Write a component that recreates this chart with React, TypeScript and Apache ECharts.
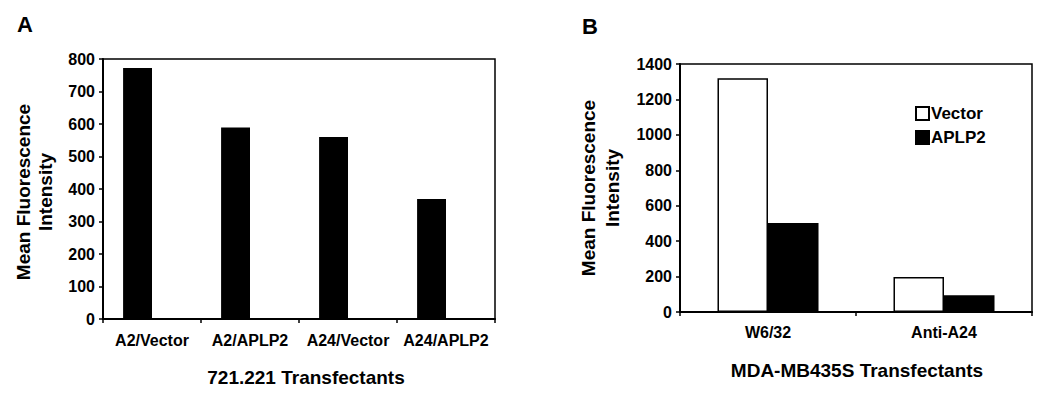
import React, { useEffect, useRef } from "react";
import * as echarts from "echarts";

const leftCategories = ["A2/Vector", "A2/APLP2", "A24/Vector", "A24/APLP2"];
const leftValues = [772, 589, 560, 369];
const leftEmpty = ["-", "-", "-", "-"];

const rightCategories = ["W6/32", "Anti-A24"];
const vectorValues = [1319, 198];
const aplp2Values = [502, 94];

const FONT = 'Arial, "Liberation Sans", Helvetica, sans-serif';

export default function App() {
  const ref = useRef<HTMLDivElement>(null);
  useEffect(() => {
    const chart = echarts.init(ref.current!, null, { renderer: "svg" });
    const axisLine = { show: true, lineStyle: { color: "#000", width: 2 } };
    const axisTick = { show: true, length: 4, inside: false, lineStyle: { color: "#000", width: 1.5 } };
    const yLabel = {
      color: "#000",
      fontSize: 16,
      fontWeight: "bold",
      fontFamily: FONT,
      margin: 8,
      formatter: (v: number) => String(v),
    };
    chart.setOption({
      animation: false,
      backgroundColor: "#fff",
      grid: [
        { left: 103, top: 59, width: 392, height: 260, show: true, borderColor: "#000", borderWidth: 1.5, backgroundColor: "transparent" },
        { left: 680, top: 64, width: 352, height: 248, show: true, borderColor: "#000", borderWidth: 1.5, backgroundColor: "transparent" },
      ],
      legend: {
        data: ["Vector", "APLP2"],
        orient: "vertical",
        left: 910,
        top: 100,
        itemWidth: 13,
        itemHeight: 13,
        itemGap: 7,
        icon: "rect",
        textStyle: { color: "#000", fontSize: 17, fontWeight: "bold", fontFamily: FONT, padding: [0, 0, 0, -3] },
      },
      xAxis: [
        {
          type: "category",
          gridIndex: 0,
          data: leftCategories,
          axisLine,
          axisTick,
          axisLabel: { color: "#000", fontSize: 16, fontWeight: "bold", fontFamily: FONT, margin: 13, interval: 0 },
        },
        {
          type: "category",
          gridIndex: 1,
          data: rightCategories,
          axisLine,
          axisTick,
          axisLabel: { color: "#000", fontSize: 16, fontWeight: "bold", fontFamily: FONT, margin: 12, interval: 0 },
        },
      ],
      yAxis: [
        {
          type: "value",
          gridIndex: 0,
          min: 0,
          max: 800,
          interval: 100,
          axisLine,
          axisTick,
          splitLine: { show: false },
          axisLabel: yLabel,
        },
        {
          type: "value",
          gridIndex: 1,
          min: 0,
          max: 1400,
          interval: 200,
          axisLine,
          axisTick,
          splitLine: { show: false },
          axisLabel: yLabel,
        },
      ],
      series: [
        {
          type: "bar",
          name: "721.221",
          xAxisIndex: 0,
          yAxisIndex: 0,
          data: leftValues,
          barGap: "0%",
          barCategoryGap: "41%",
          itemStyle: { color: "#000" },
        },
        {
          type: "bar",
          name: "empty",
          xAxisIndex: 0,
          yAxisIndex: 0,
          data: leftEmpty,
          barGap: "0%",
          barCategoryGap: "41%",
          itemStyle: { color: "#000" },
        },
        {
          type: "bar",
          name: "Vector",
          xAxisIndex: 1,
          yAxisIndex: 1,
          data: vectorValues,
          barGap: "0%",
          barCategoryGap: "42.6%",
          itemStyle: { color: "#fff", borderColor: "#000", borderWidth: 1.5 },
        },
        {
          type: "bar",
          name: "APLP2",
          xAxisIndex: 1,
          yAxisIndex: 1,
          data: aplp2Values,
          barGap: "0%",
          barCategoryGap: "42.6%",
          itemStyle: { color: "#000", borderColor: "#000", borderWidth: 1.5 },
        },
      ],
      graphic: [
        { type: "text", left: 17, top: 13, style: { text: "A", font: `bold 22px ${FONT}`, fill: "#000" } },
        { type: "text", left: 582, top: 15, style: { text: "B", font: `bold 22px ${FONT}`, fill: "#000" } },
        {
          type: "text",
          x: 34,
          y: 192,
          rotation: Math.PI / 2,
          style: {
            text: "Mean Fluorescence\nIntensity",
            font: `bold 19px ${FONT}`,
            lineHeight: 22,
            fill: "#000",
            align: "center",
            verticalAlign: "middle",
          },
        },
        {
          type: "text",
          x: 600,
          y: 188,
          rotation: Math.PI / 2,
          style: {
            text: "Mean Fluorescence\nIntensity",
            font: `bold 19px ${FONT}`,
            lineHeight: 24,
            fill: "#000",
            align: "center",
            verticalAlign: "middle",
          },
        },
        {
          type: "text",
          x: 306,
          y: 377,
          style: { text: "721.221 Transfectants", font: `bold 19px ${FONT}`, fill: "#000", align: "center", verticalAlign: "middle" },
        },
        {
          type: "text",
          x: 857,
          y: 370,
          style: { text: "MDA-MB435S Transfectants", font: `bold 19px ${FONT}`, fill: "#000", align: "center", verticalAlign: "middle" },
        },
      ],
    });
    return () => chart.dispose();
  }, []);
  return <div ref={ref} style={{ position: "fixed", left: 0, top: 0, width: 1050, height: 402 }} />;
}
